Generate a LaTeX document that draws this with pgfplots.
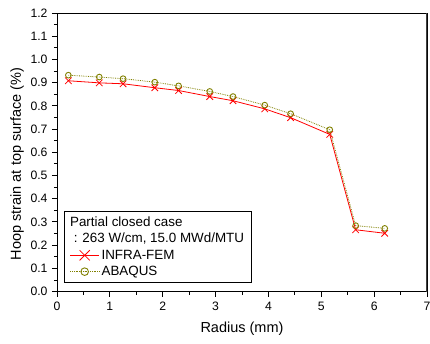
\documentclass[border=0pt]{standalone}
\usepackage{pgfplots}
\pgfplotsset{compat=1.18}
\usepackage{fontspec}
\setmainfont{Liberation Sans}
\definecolor{olivec}{RGB}{128,128,0}
\pgfplotsset{mylegend/.style={legend image code/.code={%
    \draw[mark repeat=2, mark phase=2, ##1, mark size=#1] plot coordinates {(0pt,0pt) (14.5pt,0pt) (29pt,0pt)};}}}
\begin{document}
\begin{tikzpicture}
\path[use as bounding box] (-57pt,-51.5pt) rectangle (373pt,291.5pt);
\begin{axis}[
  at={(0,0)}, anchor=south west,
  scale only axis, width=370pt, height=278.5pt,
  xmin=0, xmax=7, ymin=0, ymax=1.2,
  xtick={0,1,...,7}, ytick={0,0.1,...,1.2},
  minor x tick num=1, minor y tick num=1,
  xtick pos=bottom, ytick pos=left,
  tick align=outside,
  major tick length=5pt, minor tick length=3pt,
  axis line style={line width=0.9pt},
  every tick/.style={black, line width=0.8pt},
  /pgf/number format/assume math mode=true,
  yticklabel style={/pgf/number format/fixed, /pgf/number format/fixed zerofill, /pgf/number format/precision=1, xshift=-1pt},
  ticklabel style={font=\fontsize{12.2}{14}\selectfont},
  xticklabel style={yshift=-2pt},
  xlabel={Radius (mm)},
  ylabel={Hoop strain at top surface (\%)},
  every axis x label/.style={at={(axis description cs:0.5,-0.135)}, anchor=center, font=\fontsize{14.5}{17}\selectfont},
  every axis y label/.style={at={(axis description cs:-0.108,0.458)}, rotate=90, anchor=center, font=\fontsize{14.5}{17}\selectfont},
  legend cell align=left,
  legend style={at={(axis cs:0.13,0.346)}, anchor=north west,
    draw=black, line width=0.8pt, inner xsep=5.5pt, inner ysep=3pt,
    font=\fontsize{13.4}{15}\selectfont,
    nodes={inner sep=2pt, text height=10pt, text depth=2.3pt}},
]
\addlegendimage{empty legend}
\addlegendentry{\hspace{-31.5pt}Partial closed case}
\addlegendimage{empty legend}
\addlegendentry{\hspace{-31.5pt}\ : 263 W/cm, 15.0 MWd/MTU}
\addplot[mylegend=7.2pt, red, line width=0.8pt, mark=x, mark size=4.6pt, mark options={solid, line width=0.8pt}] coordinates {
(0.215,0.908) (0.80,0.899) (1.25,0.895) (1.85,0.878) (2.30,0.866) (2.89,0.840)
(3.33,0.822) (3.93,0.787) (4.42,0.749) (5.16,0.677) (5.65,0.266) (6.20,0.251)};
\addlegendentry{INFRA-FEM}
\addplot[mylegend=3.8pt, olivec, line width=0.8pt, densely dotted, mark=o, mark size=2.85pt, mark options={solid, fill=white, line width=0.9pt}] coordinates {
(0.215,0.932) (0.80,0.924) (1.25,0.917) (1.85,0.902) (2.30,0.886) (2.89,0.862)
(3.33,0.840) (3.93,0.803) (4.42,0.766) (5.16,0.697) (5.65,0.284) (6.20,0.272)};
\addlegendentry{ABAQUS}
\draw[line width=1.6pt, black!75] (rel axis cs:1,0) -- (rel axis cs:1,1);
\end{axis}
\end{tikzpicture}
\end{document}
